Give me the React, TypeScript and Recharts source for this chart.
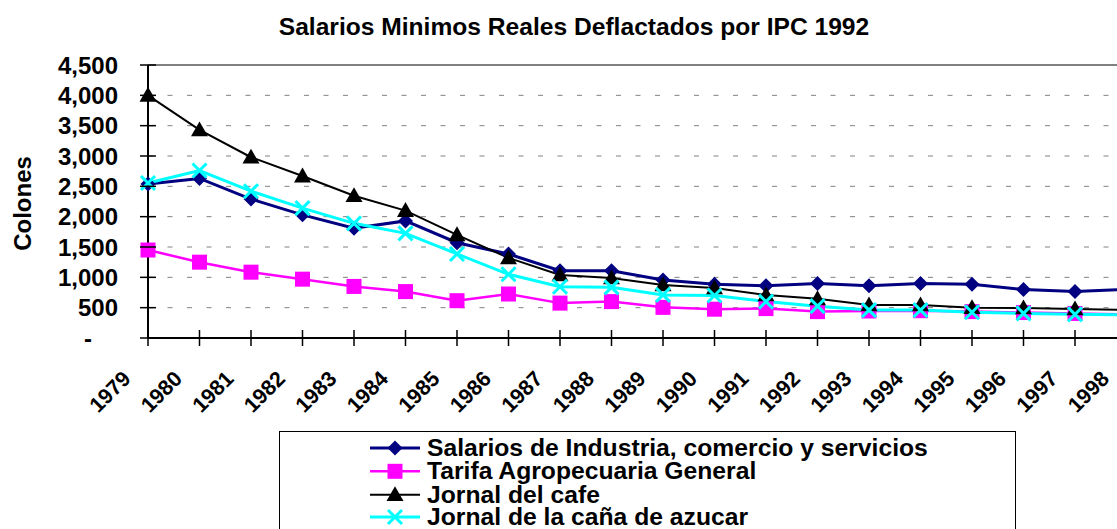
import React from 'react';
import { LineChart, Line, XAxis, YAxis, CartesianGrid, ReferenceLine, Legend, Customized } from 'recharts';

// Salarios minimos reales, colones de 1992
const years = ['1979', '1980', '1981', '1982', '1983', '1984', '1985', '1986', '1987', '1988', '1989', '1990', '1991', '1992', '1993', '1994', '1995', '1996', '1997', '1998'];
const industria = [2540, 2630, 2290, 2030, 1810, 1930, 1570, 1385, 1110, 1110, 955, 885, 860, 900, 860, 900, 885, 800, 765, 800];
const tarifa = [1450, 1250, 1085, 970, 850, 765, 615, 725, 575, 600, 505, 475, 485, 435, 445, 450, 435, 420, 405, 390];
const cafe = [4000, 3430, 2980, 2670, 2345, 2100, 1700, 1320, 1040, 990, 875, 825, 710, 645, 545, 545, 500, 495, 480, 460];
const cana = [2555, 2760, 2420, 2140, 1890, 1725, 1385, 1050, 845, 835, 710, 700, 600, 525, 460, 460, 425, 405, 390, 380];
const yTicks = [0, 500, 1000, 1500, 2000, 2500, 3000, 3500, 4000, 4500];

const title = 'Salarios Minimos Reales Deflactados por IPC 1992';
const FONT = '"Liberation Sans", Arial, sans-serif';

const series = [
  { key: 'industria', name: 'Salarios de Industria, comercio y servicios', color: '#000080', width: 3, shape: 'diamond' },
  { key: 'tarifa', name: 'Tarifa Agropecuaria General', color: '#FF00FF', width: 2.5, shape: 'square' },
  { key: 'cafe', name: 'Jornal del cafe', color: '#000000', width: 2, shape: 'triangle' },
  { key: 'cana', name: 'Jornal de la caña de azucar', color: '#00FFFF', width: 3, shape: 'cross' },
];

const data = years.map((year, i) => ({
  year,
  industria: industria[i],
  tarifa: tarifa[i],
  cafe: cafe[i],
  cana: cana[i],
}));

function Marker({ shape, color, cx, cy }: { shape: string; color: string; cx: number; cy: number }) {
  if (shape === 'diamond') {
    const r = 7.5;
    return <polygon points={`${cx},${cy - r} ${cx + r},${cy} ${cx},${cy + r} ${cx - r},${cy}`} fill={color} />;
  }
  if (shape === 'square') {
    const s = 7.5;
    return <rect x={cx - s} y={cy - s} width={2 * s} height={2 * s} fill={color} />;
  }
  if (shape === 'triangle') {
    const r = 8.5;
    return <polygon points={`${cx},${cy - r} ${cx + r},${cy + r * 0.75} ${cx - r},${cy + r * 0.75}`} fill={color} />;
  }
  const r = 7;
  return (
    <path d={`M${cx - r},${cy - r}L${cx + r},${cy + r}M${cx + r},${cy - r}L${cx - r},${cy + r}`} stroke={color} strokeWidth={3} fill="none" />
  );
}

function YTick(props: any) {
  const { x, y, payload } = props;
  const v = payload.value as number;
  const label = v === 0 ? '-' : v.toLocaleString('en-US');
  return (
    <g>
      <line x1={x - 8} x2={x + 8} y1={y} y2={y} stroke="#000" strokeWidth={1.5} />
      <text
        x={v === 0 ? x - 60 : x - 30}
        y={y}
        dy={8.5}
        textAnchor={v === 0 ? 'middle' : 'end'}
        fontFamily={FONT}
        fontWeight="bold"
        fontSize={24}
        fill="#000"
      >
        {label}
      </text>
    </g>
  );
}

function XTick(props: any) {
  const { x, y, payload } = props;
  const tx = x - 16;
  const ty = y + 42;
  return (
    <g>
      <line x1={x} x2={x} y1={y - 8} y2={y + 8} stroke="#000" strokeWidth={1.5} />
      <text
        x={tx}
        y={ty}
        textAnchor="end"
        transform={`rotate(-45, ${tx}, ${ty})`}
        fontFamily={FONT}
        fontWeight="bold"
        fontSize={21.5}
        fill="#000"
      >
        {payload.value}
      </text>
    </g>
  );
}

function LegendBox() {
  const rowBase = [25, 48.3, 71.7, 94];
  return (
    <svg width={737} height={110} style={{ display: 'block' }}>
      <rect x={0.5} y={0.5} width={736} height={120} fill="#fff" stroke="#000" strokeWidth={1} />
      {series.map((s, i) => (
        <g key={s.key}>
          <line x1={91} x2={141} y1={rowBase[i] - 8} y2={rowBase[i] - 8} stroke={s.color} strokeWidth={s.width} />
          <Marker shape={s.shape} color={s.color} cx={116} cy={rowBase[i] - 8} />
          <text x={148} y={rowBase[i]} fontFamily={FONT} fontWeight="bold" fontSize={24.7} fill="#000">
            {s.name}
          </text>
        </g>
      ))}
    </svg>
  );
}

export default function App() {
  return (
    <div style={{ position: 'absolute', left: 0, top: 0, width: 1117, height: 529, overflow: 'hidden', background: '#fff' }}>
      <LineChart width={1140} height={529} data={data} margin={{ top: 65, right: 13.5, bottom: 0, left: 0 }}>
        <CartesianGrid vertical={false} stroke="#808080" strokeDasharray="5 14.5" />
        <ReferenceLine y={4500} stroke="#808080" strokeWidth={2} />
        <XAxis
          dataKey="year"
          interval={0}
          height={191}
          tickSize={0}
          tickMargin={0}
          tickLine={false}
          axisLine={{ stroke: '#000', strokeWidth: 2 }}
          tick={<XTick />}
        />
        <YAxis
          domain={[0, 4500]}
          ticks={yTicks}
          width={148}
          tickSize={0}
          tickMargin={0}
          tickLine={false}
          axisLine={{ stroke: '#000', strokeWidth: 2 }}
          tick={<YTick />}
          label={{
            content: (p: any) => {
              const vb = p.viewBox;
              const cy = vb.y + vb.height / 2 + 2;
              return (
                <text
                  x={31}
                  y={cy}
                  textAnchor="middle"
                  transform={`rotate(-90, 31, ${cy})`}
                  fontFamily={FONT}
                  fontWeight="bold"
                  fontSize={24}
                  fill="#000"
                >
                  Colones
                </text>
              );
            },
          }}
        />
        <Legend
          layout="vertical"
          align="center"
          verticalAlign="middle"
          wrapperStyle={{ left: 279, top: 431, width: 737, height: 110 }}
          content={() => <LegendBox />}
        />
        {series.map((s) => (
          <Line
            key={s.key}
            dataKey={s.key}
            name={s.name}
            stroke={s.color}
            strokeWidth={s.width}
            isAnimationActive={false}
            dot={(p: any) => <Marker key={`${s.key}-${p.index}`} shape={s.shape} color={s.color} cx={p.cx} cy={p.cy} />}
            activeDot={false}
          />
        ))}
        <Customized
          component={() => (
            <text x={574} y={35} textAnchor="middle" fontFamily={FONT} fontWeight="bold" fontSize={24.6} fill="#000">
              {title}
            </text>
          )}
        />
      </LineChart>
    </div>
  );
}
